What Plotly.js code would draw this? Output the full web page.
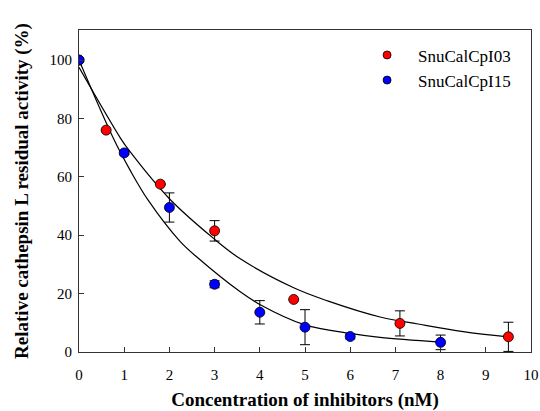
<!DOCTYPE html>
<html>
<head>
<meta charset="utf-8">
<script src="https://cdn.plot.ly/plotly-3.0.1.min.js"></script>
<style>html,body{margin:0;padding:0;background:#fff}#chart{width:540px;height:411px}</style>
</head>
<body>
<div id="chart"></div>
<script>
// Measured points
const i03X = [0, 0.6, 1.8, 3.0, 4.75, 7.1, 9.5];
const i03Y = [100, 76, 57.5, 41.5, 18, 9.8, 5.2];
const i03Err = [0, 0, 0, 3.5, 0, 4.3, 5];

const i15X = [0, 1, 2, 3, 4, 5, 6, 8];
const i15Y = [100, 68.2, 49.5, 23.2, 13.6, 8.5, 5.3, 3.3];
const i15Err = [0, 0.6, 5, 1.2, 4, 6, 0.8, 2.5];

// Fitted curves
const fit03X = [0, 0.92, 1.13, 2.0, 2.97, 3.56, 4.75, 5.5, 6.66, 7.5, 8.5, 9.5];
const fit03Y = [97.5, 73.2, 68.6, 52.5, 39.0, 32.0, 22.0, 17.5, 12.0, 9.6, 7.0, 5.2];
const fit15X = [0, 0.76, 1.13, 1.53, 2.23, 2.64, 3.56, 4.0, 5.0, 6.0, 6.66, 8.0];
const fit15Y = [100, 73.2, 62.3, 52.0, 38.0, 32.1, 20.7, 16.3, 9.3, 6.4, 5.0, 3.4];

const names = ['SnuCalCpI03', 'SnuCalCpI15'];
const colors = ['#ff0000', '#0000ff'];
const xTicks = [0,1,2,3,4,5,6,7,8,9,10];
const yTicks = [0,20,40,60,80,100];

const serif = 'Liberation Serif, Times New Roman, serif';
const axisCol = '#333';

const traces = [
  {x: fit03X, y: fit03Y, mode: 'lines', line: {color: '#000', width: 1.2, shape: 'spline'}, showlegend: false, hoverinfo: 'skip'},
  {x: fit15X, y: fit15Y, mode: 'lines', line: {color: '#000', width: 1.2, shape: 'spline'}, showlegend: false, hoverinfo: 'skip'},
  {x: i03X, y: i03Y, name: names[0], mode: 'markers', type: 'scatter', showlegend: false,
   marker: {color: colors[0], size: 10, line: {color: '#000', width: 0.8}},
   error_y: {type: 'data', array: i03Err, visible: true, color: '#000', thickness: 1, width: 5}},
  {x: i15X, y: i15Y, name: names[1], mode: 'markers', type: 'scatter', showlegend: false,
   marker: {color: colors[1], size: 10, line: {color: '#000', width: 0.8}},
   error_y: {type: 'data', array: i15Err, visible: true, color: '#000', thickness: 1, width: 5}},
  // legend entries (smaller symbols, as in the reference)
  {x: [null], y: [null], name: names[0], mode: 'markers', marker: {color: colors[0], size: 8, line: {color: '#000', width: 0.8}}},
  {x: [null], y: [null], name: names[1], mode: 'markers', marker: {color: colors[1], size: 8, line: {color: '#000', width: 0.8}}}
];

const layout = {
  width: 540, height: 411,
  margin: {l: 79, r: 9, t: 30, b: 59},
  paper_bgcolor: '#fff', plot_bgcolor: '#fff',
  font: {family: serif, color: '#000'},
  showlegend: true,
  legend: {x: 0.613, y: 0.977, xanchor: 'left', yanchor: 'top', bgcolor: 'rgba(0,0,0,0)',
           itemwidth: 52, itemsizing: 'trace',
           font: {family: serif, size: 17, color: '#000'}, tracegroupgap: 0},
  xaxis: {
    range: [0, 10], tickvals: xTicks, ticktext: xTicks.map(String),
    ticks: 'inside', ticklen: 5, tickcolor: axisCol, tickwidth: 1,
    showline: true, linecolor: axisCol, linewidth: 1, mirror: true,
    showgrid: false, zeroline: false, ticklabelstandoff: 9,
    tickfont: {family: serif, size: 15, color: '#000'},
    title: {text: '<b>Concentration of inhibitors (nM)</b>', font: {family: serif, size: 19, color: '#000'}, standoff: 10}
  },
  yaxis: {
    range: [0, 110.3], tickvals: yTicks, ticktext: yTicks.map(String),
    ticks: 'inside', ticklen: 5, tickcolor: axisCol, tickwidth: 1,
    showline: true, linecolor: axisCol, linewidth: 1, mirror: true,
    showgrid: false, zeroline: false, ticklabelstandoff: 3,
    tickfont: {family: serif, size: 15, color: '#000'},
    title: {text: '<b>Relative cathepsin L residual activity (%)</b>', font: {family: serif, size: 19, color: '#000'}, standoff: 15}
  }
};

Plotly.newPlot('chart', traces, layout, {displayModeBar: false, staticPlot: true});
</script>
</body>
</html>
